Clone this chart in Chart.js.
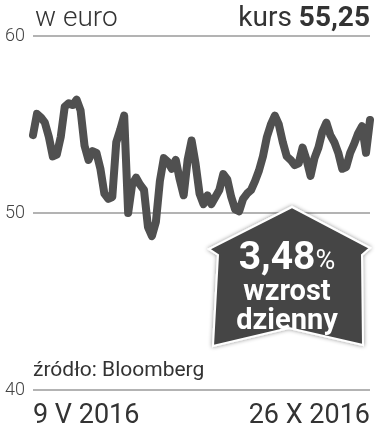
<!DOCTYPE html>
<html>
<head>
<meta charset="utf-8">
<script src="https://cdn.jsdelivr.net/npm/chart.js@4"></script>
<style>
  body { margin: 0; background: #fff; }
  #wrap { position: relative; width: 377px; height: 432px; font-family: Roboto, sans-serif; color: #333; }
  #chart { position: absolute; left: 0; top: 0; }
  .txt { position: absolute; white-space: nowrap; line-height: 1; }
  #unit { left: 35px; top: 3px; font-size: 28px; font-weight: 300; }
  #kurs { right: 7px; top: 3px; font-size: 28px; }
  #kurs b { font-weight: 700; }
  #src { left: 33px; top: 359px; font-size: 21px; }
  #badge { position: absolute; left: 0; top: 0; }
  .btxt { position: absolute; color: #fff; font-weight: 700; text-align: center; width: 160px; left: 207px; line-height: 1; }
  #pct { top: 237px; font-size: 39px; }
  #pct span { font-size: 27px; font-weight: 400; }
  #lbl1 { top: 276px; font-size: 29px; }
  #lbl2 { top: 305px; font-size: 29px; }
</style>
</head>
<body>
<div id="wrap">
  <canvas id="chart" width="377" height="432"></canvas>
  <div class="txt" id="unit">w euro</div>
  <div class="txt" id="kurs">kurs <b>55,25</b></div>
  <div class="txt" id="src">źródło: Bloomberg</div>
  <svg id="badge" width="377" height="432">
    <defs>
      <filter id="sh" x="-20%" y="-20%" width="140%" height="140%">
        <feDropShadow dx="0" dy="0" stdDeviation="2" flood-color="#000" flood-opacity="0.45"/>
      </filter>
    </defs>
    <polygon points="292,207 370,248 362,255 363,345 289,328 213,346 218,255 209,249"
             fill="#454545" stroke="#fff" stroke-width="2" filter="url(#sh)"/>
  </svg>
  <div class="btxt" id="pct">3,48<span>%</span></div>
  <div class="btxt" id="lbl1">wzrost</div>
  <div class="btxt" id="lbl2">dzienny</div>
</div>
<script>
// kurs w euro, 9 V 2016 - 26 X 2016
const prices = [
  54.4, 55.6, 55.4, 55.1, 54.3, 53.2, 53.3, 54.3, 56.0, 56.2,
  56.1, 56.4, 55.8, 53.8, 53.0, 53.5, 53.4, 52.5, 51.1, 50.8,
  50.9, 54.0, 54.7, 55.5, 50.0, 51.6, 52.0, 51.6, 51.3, 49.2,
  48.7, 49.5, 51.8, 53.1, 52.9, 52.5, 53.0, 51.9, 51.0, 53.0,
  54.1, 52.8, 51.1, 50.5, 51.0, 50.5, 50.9, 51.3, 52.2, 51.9,
  50.9, 50.2, 50.1, 50.8, 51.1, 51.3, 51.8, 52.4, 53.2, 54.3,
  55.0, 55.5, 55.0, 54.0, 53.2, 53.0, 52.7, 52.8, 53.7, 53.0,
  52.1, 53.1, 53.7, 54.6, 55.1, 54.4, 54.0, 53.4, 52.5, 52.6,
  53.4, 53.9, 54.5, 54.9, 53.4, 55.25
];
const categories = prices.map((_, i) => i);
const tickLabels = ['9 V 2016', '26 X 2016'];
const yTicks = [40, 50, 60];

new Chart(document.getElementById('chart'), {
  type: 'line',
  data: {
    labels: categories,
    datasets: [{
      data: prices,
      borderColor: '#505050',
      borderWidth: 8,
      borderJoinStyle: 'round',
      borderCapStyle: 'round',
      pointRadius: 0,
      tension: 0,
      fill: false
    }]
  },
  options: {
    responsive: false,
    animation: false,
    layout: { padding: { top: 36, right: 7, left: 0, bottom: 0 } },
    plugins: { legend: { display: false }, tooltip: { enabled: false } },
    scales: {
      x: {
        grid: { display: false },
        border: { display: false },
        afterFit: s => { s.height = 42; },
        ticks: {
          autoSkip: false,
          maxRotation: 0,
          align: 'inner',
          padding: 2,
          color: '#333',
          font: { family: 'Roboto', size: 27 },
          callback: (v, i) => i === 0 ? tickLabels[0] : (i === categories.length - 1 ? tickLabels[1] : '')
        }
      },
      y: {
        min: yTicks[0],
        max: yTicks[yTicks.length - 1],
        afterBuildTicks: s => { s.ticks = yTicks.map(v => ({ value: v })); },
        afterFit: s => { s.width = 33; },
        border: { display: false },
        grid: { color: '#b3b3b3', lineWidth: 2, drawTicks: false },
        ticks: {
          padding: 8,
          color: '#444',
          font: { family: 'Roboto', size: 18, weight: '300' }
        }
      }
    }
  }
});
</script>
</body>
</html>
